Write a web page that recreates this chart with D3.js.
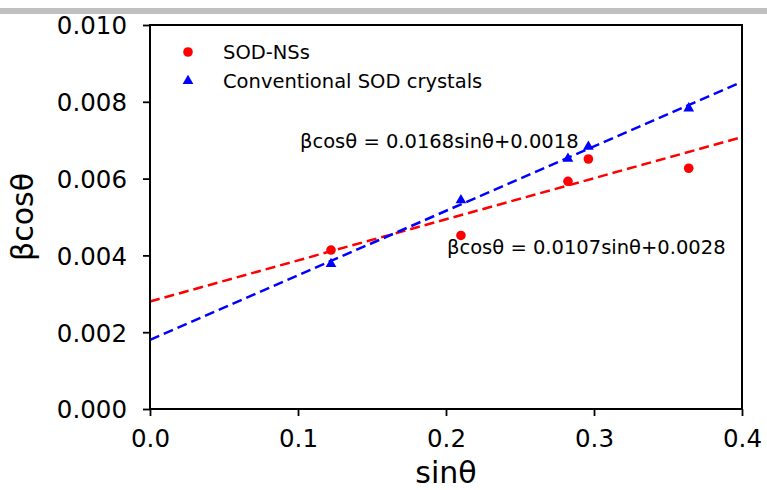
<!DOCTYPE html>
<html><head><meta charset="utf-8">
<script src="https://cdn.jsdelivr.net/npm/d3@7"></script>
<style>body{margin:0;background:#fff}svg{display:block}text{font-family:"DejaVu Sans",sans-serif;fill:#000}</style>
</head><body><svg id="c" width="767" height="490"></svg>
<script>
const nsX = [0.1223, 0.2101, 0.2824, 0.2962, 0.3640];
const nsY = [0.00414, 0.00452, 0.00593, 0.00651, 0.00627];
const crX = [0.1223, 0.2101, 0.2824, 0.2962, 0.3640];
const crY = [0.00378, 0.00544, 0.00652, 0.00683, 0.00783];
const fitNS = {slope: 0.0107, intercept: 0.0028, label: "βcosθ = 0.0107sinθ+0.0028"};
const fitCR = {slope: 0.0168, intercept: 0.0018, label: "βcosθ = 0.0168sinθ+0.0018"};
const xTicks = [0.0, 0.1, 0.2, 0.3, 0.4];
const yTicks = [0.000, 0.002, 0.004, 0.006, 0.008, 0.010];
const legendNames = ["SOD-NSs", "Conventional SOD crystals"];

const svg = d3.select("#c");
const L = 150, R = 742, T = 25, B = 409;
const x = d3.scaleLinear().domain([0, 0.4]).range([L, R]);
const y = d3.scaleLinear().domain([0, 0.010]).range([B, T]);

svg.append("rect").attr("x", 0).attr("y", 8).attr("width", 767).attr("height", 6).attr("fill", "#c0c0c0");

// axes
const xa = svg.append("g").attr("transform", `translate(0,${B})`)
  .call(d3.axisBottom(x).tickValues(xTicks).tickFormat(d3.format(".1f")).tickSize(7).tickPadding(14));
const ya = svg.append("g").attr("transform", `translate(${L},0)`)
  .call(d3.axisLeft(y).tickValues(yTicks).tickFormat(d3.format(".3f")).tickSize(7).tickPadding(16));
[xa, ya].forEach(g => {
  g.select(".domain").remove();
  g.selectAll(".tick line").attr("stroke", "#000").attr("stroke-width", 1.8);
  g.selectAll(".tick text").style("font-size", "24.5px").attr("fill", "#000");
});
ya.selectAll(".tick text").attr("dy", "0.36em");

// fit lines
const xs = [0, 0.4];
[[fitNS, "#ff0000"], [fitCR, "#0000ff"]].forEach(([f, col]) => {
  svg.append("line")
    .attr("x1", x(xs[0])).attr("y1", y(f.intercept + f.slope * xs[0]))
    .attr("x2", x(xs[1])).attr("y2", y(f.intercept + f.slope * xs[1]))
    .attr("stroke", col).attr("stroke-width", 2.5).attr("stroke-dasharray", "10,5");
});

// points
svg.append("g").selectAll("circle").data(nsX.map((v, i) => [v, nsY[i]])).join("circle")
  .attr("cx", d => x(d[0])).attr("cy", d => y(d[1])).attr("r", 4.8).attr("fill", "#ff0000");
const tri = d3.symbol().type(d3.symbolTriangle).size(50);
svg.append("g").selectAll("path").data(crX.map((v, i) => [v, crY[i]])).join("path")
  .attr("d", tri).attr("transform", d => `translate(${x(d[0])},${y(d[1])})`).attr("fill", "#0000ff");

// frame
svg.append("rect").attr("x", L).attr("y", T).attr("width", R - L).attr("height", B - T)
  .attr("fill", "none").attr("stroke", "#000").attr("stroke-width", 2);

// annotations
svg.append("text").attr("x", 300).attr("y", 148).style("font-size", "19.5px").text(fitCR.label);
svg.append("text").attr("x", 447).attr("y", 254).style("font-size", "19.5px").text(fitNS.label);

// legend
svg.append("circle").attr("cx", 188).attr("cy", 52).attr("r", 4.8).attr("fill", "#ff0000");
svg.append("path").attr("d", tri).attr("transform", "translate(188,81)").attr("fill", "#0000ff");
svg.append("text").attr("x", 223).attr("y", 59).style("font-size", "19.5px").text(legendNames[0]);
svg.append("text").attr("x", 223).attr("y", 88).style("font-size", "19.5px").text(legendNames[1]);

// axis labels
svg.append("text").attr("x", (L + R) / 2).attr("y", 483).attr("text-anchor", "middle").style("font-size", "30px").text("sinθ");
svg.append("text").attr("transform", `translate(33,${(T + B) / 2}) rotate(-90)`).attr("text-anchor", "middle").style("font-size", "30px").text("βcosθ");
</script></body></html>
